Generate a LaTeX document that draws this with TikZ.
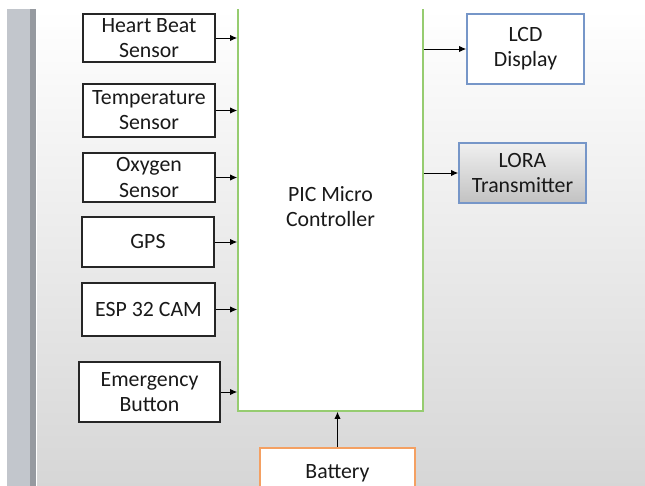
\documentclass[tikz,border=0pt]{standalone}
\usepackage{fontspec}
\setmainfont{Carlito}
\usepackage{tikz}
\usetikzlibrary{arrows.meta}
\definecolor{mcugreen}{RGB}{150,204,112}
\definecolor{lcdblue}{RGB}{118,150,200}
\definecolor{batorange}{RGB}{244,160,98}
\definecolor{txtgray}{RGB}{25,25,25}
\definecolor{stripgray}{RGB}{194,198,204}
\definecolor{stripedge}{RGB}{150,154,160}
\tikzset{
  blk/.style={draw=black!85, line width=0.75pt, fill=white, align=center,
    text=txtgray, font=\fontsize{15.5}{17.8}\selectfont, inner sep=0pt},
  colblk/.style={blk, line width=1.1pt},
  sig/.style={-{Latex[length=5pt,width=4.5pt]}, line width=0.7pt, black}
}
\begin{document}
\begin{tikzpicture}[x=0.025cm, y=-0.025cm]
      \useasboundingbox (0,0) rectangle (645,486);
      \clip (0,0) rectangle (645,486);

      % slide background with the grey strip on the left
      \shade[top color=white, bottom color=black!16] (37,9) rectangle (645,486);
      \fill[stripgray] (7,9) rectangle (30,486);
      \fill[stripedge] (30,9) rectangle (36,486);

      % Micro controller in the middle (top is cut off)
      \node[colblk, draw=mcugreen, minimum width=4.625cm, minimum height=10.2cm] (MCU) at (330.5,207) {PIC Micro\\Controller};

      % Input blocks on the left
      \node[blk, minimum width=3.3cm, minimum height=1.2cm] (Heart) at (149,38) {Heart Beat\\Sensor};
      \node[blk, minimum width=3.3cm, minimum height=1.325cm] (Temp) at (149,110.5) {Temperature\\Sensor};
      \node[blk, minimum width=3.3cm, minimum height=1.225cm] (Oxy) at (149,177.5) {Oxygen\\Sensor};
      \node[blk, minimum width=3.3cm, minimum height=1.25cm] (GPS) at (148,242) {GPS};
      \node[blk, minimum width=3.325cm, minimum height=1.325cm] (Cam) at (148.5,309.5) {ESP 32 CAM};
      \node[blk, minimum width=3.525cm, minimum height=1.5cm] (Emerg) at (149.5,392) {Emergency\\Button};

      % Output blocks on the right
      \node[colblk, draw=lcdblue, minimum width=2.925cm, minimum height=1.75cm] (LCD) at (525.5,49) {LCD\\Display};
      \node[colblk, draw=lcdblue, top color=black!6, bottom color=black!24, minimum width=3.175cm, minimum height=1.5cm] (Lora) at (522.5,173) {LORA\\Transmitter};

      % Supply at the bottom (cut off)
      \node[colblk, draw=batorange, minimum width=3.875cm, minimum height=1.25cm] (Bat) at (337.5,473) {Battery};

      % white band over the top edge
      \fill[white] (0,0) rectangle (645,9);

      % Connect inputs to the controller
      \draw[sig] (Heart.east) -- (Heart.east -| MCU.west);
      \draw[sig] (Temp.east) -- (Temp.east -| MCU.west);
      \draw[sig] (Oxy.east) -- (Oxy.east -| MCU.west);
      \draw[sig] (GPS.east) -- (GPS.east -| MCU.west);
      \draw[sig] (Cam.east) -- (Cam.east -| MCU.west);
      \draw[sig] (Emerg.east) -- (Emerg.east -| MCU.west);

      % Controller to outputs, battery to controller
      \draw[sig] (MCU.east |- LCD.west) -- (LCD.west);
      \draw[sig] (MCU.east |- Lora.west) -- (Lora.west);
      \draw[sig] (Bat.north) -- (Bat.north |- MCU.south);
    \end{tikzpicture}
\end{document}
